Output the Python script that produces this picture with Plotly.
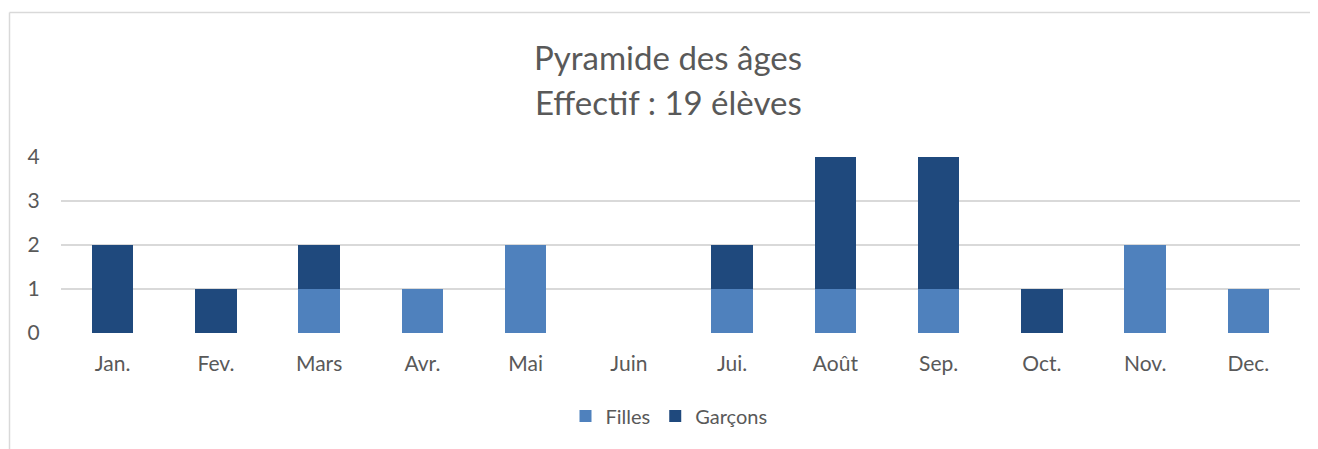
import plotly.graph_objects as go

months = ["Jan.", "Fev.", "Mars", "Avr.", "Mai", "Juin", "Jui.", "Août", "Sep.", "Oct.", "Nov.", "Dec."]
filles = [0, 0, 1, 1, 2, 0, 1, 1, 1, 0, 2, 1]
garcons = [2, 1, 1, 0, 0, 0, 1, 3, 3, 1, 0, 0]
title_lines = ["Pyramide des âges", "Effectif : 19 élèves"]

FONT = "Lato"
GREY = "#595959"
OFF = 8  # page body margin

fig = go.Figure()
fig.add_trace(go.Bar(x=months, y=filles, name="Filles", marker=dict(color="#4f81bd", line=dict(width=0))))
fig.add_trace(go.Bar(x=months, y=garcons, name="Garçons", marker=dict(color="#1f497d", line=dict(width=0))))

W, H = 1310, 441
L = 61 - OFF
T = 157 - OFF
R = W - (1300 - OFF)
B = H - (333 - OFF)
pw = W - L - R
ph = H - T - B

def px_x(x):
    # screen x -> paper
    return (x - OFF - L) / pw

def px_y(y):
    # screen y -> paper
    return (H - B - (y - OFF)) / ph

fig.update_layout(
    width=W, height=H,
    margin=dict(l=L, r=R, t=T, b=B, pad=0),
    barmode="stack",
    bargap=0.6,
    plot_bgcolor="white",
    paper_bgcolor="white",
    font=dict(family=FONT, color=GREY, size=20),
    showlegend=True,
    legend=dict(orientation="h", x=px_x(669), xanchor="center", y=px_y(416), yanchor="middle",
                font=dict(size=20, color=GREY), traceorder="normal", itemwidth=30),
    xaxis=dict(showgrid=False, showline=False, ticks="outside", ticklen=12, tickcolor="rgba(0,0,0,0)",
               tickfont=dict(size=21, color=GREY)),
    yaxis=dict(range=[0, 4], dtick=1, showgrid=True, gridcolor="#d9d9d9", gridwidth=1.5,
               zeroline=False, showline=False, ticks="outside", ticklen=16, tickcolor="rgba(0,0,0,0)",
               tickfont=dict(size=21, color=GREY)),
    shapes=[
        dict(type="line", xref="paper", yref="paper", x0=px_x(9.5), x1=px_x(1320), y0=px_y(12.5), y1=px_y(12.5),
             line=dict(color="#d9d9d9", width=1.5)),
        dict(type="line", xref="paper", yref="paper", x0=px_x(9.5), x1=px_x(9.5), y0=px_y(12.5), y1=px_y(452),
             line=dict(color="#d9d9d9", width=1.5)),
    ],
    annotations=[
        dict(text=title_lines[0], xref="paper", yref="paper", x=px_x(668), y=px_y(57), xanchor="center",
             yanchor="middle", showarrow=False, font=dict(size=33, color=GREY, family=FONT)),
        dict(text=title_lines[1], xref="paper", yref="paper", x=px_x(668), y=px_y(102), xanchor="center",
             yanchor="middle", showarrow=False, font=dict(size=33, color=GREY, family=FONT)),
    ],
)

fig.write_html("out.html")
